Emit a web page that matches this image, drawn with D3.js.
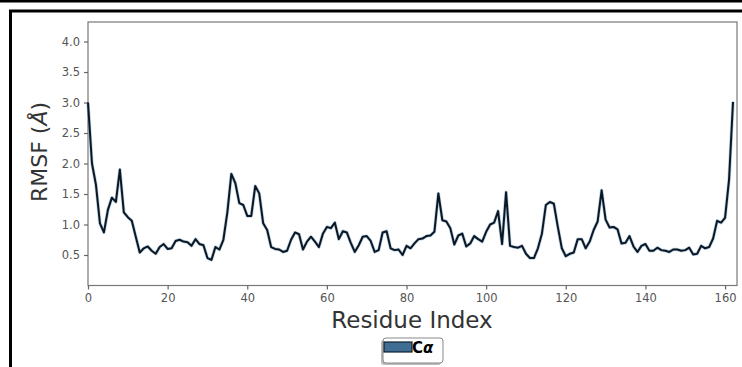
<!DOCTYPE html>
<html><head><meta charset="utf-8">
<script src="https://cdn.jsdelivr.net/npm/d3@7"></script>
<style>
html,body{margin:0;padding:0;background:#fff;}
svg{display:block;font-family:"DejaVu Sans",sans-serif;}
</style></head>
<body>
<svg id="chart" width="742" height="367"></svg>
<script>
const residues = d3.range(0, 163);
const rmsf = [3.0,2.0,1.65,1.02,0.87,1.24,1.44,1.37,1.9,1.2,
1.12,1.06,0.8,0.54,0.61,0.64,0.57,0.52,0.63,0.68,
0.6,0.61,0.73,0.75,0.72,0.71,0.65,0.76,0.68,0.66,
0.45,0.42,0.63,0.59,0.75,1.2,1.83,1.68,1.35,1.32,
1.14,1.14,1.63,1.51,1.02,0.91,0.63,0.6,0.59,0.55,
0.57,0.75,0.87,0.84,0.59,0.72,0.8,0.72,0.63,0.85,
0.96,0.94,1.03,0.76,0.89,0.87,0.7,0.55,0.66,0.8,
0.81,0.73,0.55,0.58,0.87,0.89,0.61,0.58,0.59,0.5,
0.65,0.61,0.69,0.76,0.77,0.81,0.82,0.88,1.51,1.07,
1.05,0.94,0.67,0.82,0.85,0.64,0.69,0.81,0.76,0.72,
0.88,1.0,1.03,1.22,0.68,1.53,0.65,0.63,0.62,0.65,
0.52,0.45,0.45,0.61,0.85,1.32,1.37,1.34,0.96,0.61,
0.48,0.52,0.54,0.76,0.76,0.61,0.72,0.91,1.05,1.56,
1.08,0.95,0.96,0.92,0.69,0.7,0.81,0.64,0.55,0.65,
0.68,0.57,0.57,0.62,0.58,0.57,0.55,0.59,0.59,0.57,
0.58,0.62,0.51,0.52,0.65,0.61,0.63,0.77,1.06,1.03,
1.11,1.73,3.01];
const xTicks = [0,20,40,60,80,100,120,140,160];
const yTicks = [0.5,1.0,1.5,2.0,2.5,3.0,3.5,4.0];
const seriesName = "C";

const svg = d3.select("#chart");
const m = {left:88, top:22, right:737, bottom:285.5};

// outer frame
svg.append("rect").attr("x",0).attr("y",0).attr("width",742).attr("height",2.5).attr("fill","#000");
svg.append("path").attr("d","M10.5,380 V11 H760").attr("fill","none").attr("stroke","#000").attr("stroke-width",3);

const x = d3.scaleLinear().domain([0,163]).range([m.left,m.right]);
const y = d3.scaleLinear().domain([0,4.32]).range([m.bottom,m.top]);

// plot box
svg.append("rect").attr("x",m.left).attr("y",m.top).attr("width",m.right-m.left).attr("height",m.bottom-m.top)
  .attr("fill","none").attr("stroke","#777").attr("stroke-width",1.2);

const xa = svg.append("g").attr("transform",`translate(0,${m.bottom})`)
  .call(d3.axisBottom(x).tickValues(xTicks).tickFormat(d3.format("d")).tickSize(4).tickPadding(4));
const ya = svg.append("g").attr("transform",`translate(${m.left},0)`)
  .call(d3.axisLeft(y).tickValues(yTicks).tickFormat(d3.format(".1f")).tickSize(4).tickPadding(4));
[xa,ya].forEach(g=>{
  g.select(".domain").remove();
  g.selectAll(".tick line").attr("stroke","#666").attr("stroke-width",1.2);
  g.selectAll(".tick text").attr("fill","#555").attr("font-size","11.5px").attr("font-family","DejaVu Sans");
});

// line
const line = d3.line().x((d,i)=>x(residues[i])).y(d=>y(d));
svg.append("path").datum(rmsf).attr("d",line).attr("fill","none")
  .attr("stroke","#6d9cc0").attr("stroke-opacity",0.45).attr("stroke-width",3.4).attr("stroke-linejoin","round");
svg.append("path").datum(rmsf).attr("d",line).attr("fill","none")
  .attr("stroke","#0b1724").attr("stroke-width",2).attr("stroke-linejoin","round");

// axis labels
svg.append("text").attr("x",412).attr("y",328).attr("text-anchor","middle")
  .attr("font-size","23px").attr("fill","#333").text("Residue Index");
const yl = svg.append("text").attr("transform","translate(47,152) rotate(-90)").attr("text-anchor","middle")
  .attr("font-size","22px").attr("fill","#333");
yl.append("tspan").text("RMSF (");
yl.append("tspan").attr("font-style","italic").text("Å");
yl.append("tspan").text(")");

// legend
const lg = svg.append("g");
lg.append("rect").attr("x",381).attr("y",340).attr("width",60).attr("height",25).attr("rx",3)
  .attr("fill","#bbb");
lg.append("rect").attr("x",383).attr("y",338).attr("width",60).attr("height",25).attr("rx",3)
  .attr("fill","#fff").attr("stroke","#888").attr("stroke-width",1);
lg.append("rect").attr("x",384).attr("y",342).attr("width",28).attr("height",10)
  .attr("fill","#3f6d93").attr("stroke","#10202e").attr("stroke-width",1.2);
const lt = lg.append("text").attr("x",412).attr("y",353).attr("font-size","15px").attr("font-weight","bold").attr("fill","#000");
lt.append("tspan").text(seriesName);
lt.append("tspan").attr("font-style","italic").text("α");
</script>
</body></html>
